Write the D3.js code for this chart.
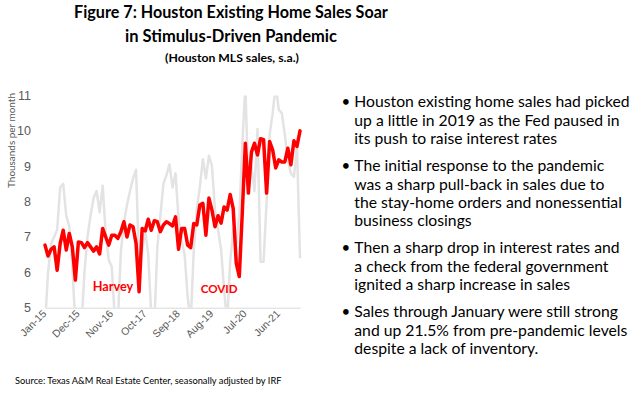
<!DOCTYPE html>
<html>
<head>
<meta charset="utf-8">
<script src="https://cdn.jsdelivr.net/npm/d3@7"></script>
<style>
  body { margin: 0; background: #fff; }
  svg { display: block; font-family: Lato, "Open Sans", sans-serif; }
</style>
</head>
<body>
<svg id="chart" width="641" height="394"></svg>
<script>
// monthly, Jan-15 .. Jan-22
const months = d3.timeMonth.range(new Date(2015, 0, 1), new Date(2022, 1, 1)).map(d3.timeFormat("%b-%y"));
const tickLabels = ["Jan-15", "Dec-15", "Nov-16", "Oct-17", "Sep-18", "Aug-19", "Jul-20", "Jun-21"];
const yTicks = [5, 6, 7, 8, 9, 10, 11];

// seasonally adjusted sales (thousands)
const salesSA = [
  6.77, 6.46, 6.65, 6.72, 6.06, 6.82, 7.19, 6.63, 7.10, 6.72, 5.78, 6.86,
  6.84, 6.70, 6.84, 6.72, 6.60, 6.72, 6.52, 7.24, 7.00, 6.77, 7.05, 7.05,
  6.96, 7.15, 7.43, 7.00, 7.34, 7.29, 6.82, 5.45, 7.24, 7.17, 7.50, 7.19,
  7.46, 7.43, 7.15, 7.34, 7.43, 7.38, 7.31, 7.57, 6.65, 7.24, 7.24, 6.77,
  6.70, 7.38, 7.34, 7.90, 7.95, 7.05, 8.10, 7.76, 7.29, 7.60, 7.39, 7.85,
  7.76, 8.20, 7.80, 6.26, 5.88, 7.70, 9.65, 8.24, 9.40, 9.65, 9.32, 9.78,
  9.75, 8.24, 9.70, 9.46, 8.95, 9.18, 9.12, 9.12, 9.51, 9.04, 9.72, 9.56,
  10.00
];
// unadjusted sales (thousands), drawn light grey behind
const salesRaw = [
  4.5, 6.0, 6.8, 7.0, 7.2, 8.4, 8.5, 7.6, 7.3, 6.2, 4.5, 4.8,
  4.5, 6.0, 7.0, 7.6, 8.1, 8.3, 7.7, 8.45, 7.1, 6.35, 6.15, 4.7,
  4.6, 6.6, 7.4, 7.9, 8.3, 8.65, 8.9, 6.2, 6.6, 7.2, 6.5, 4.8,
  4.5, 6.7, 7.6, 8.5, 8.75, 9.05, 8.4, 8.8, 7.5, 6.9, 6.5, 5.3,
  4.6, 6.6, 7.8, 8.4, 9.2, 8.65, 9.3, 9.0, 7.75, 7.2, 6.65, 5.5,
  4.6, 6.3, 7.2, 6.8, 7.6, 9.6, 11.3, 8.4, 9.0, 8.3, 10.05, 6.3,
  6.3, 8.0, 9.9, 10.5, 11.3, 10.6, 10.5, 9.9, 9.15, 8.8, 8.7, 9.6,
  6.4
];

const titleLines = ["Figure 7: Houston Existing Home Sales Soar", "in Stimulus-Driven Pandemic"];
const subtitle = "(Houston MLS sales, s.a.)";
const bullets = [
  ["Houston existing home sales had picked", "up a little in 2019 as the Fed paused in", "its push to raise interest rates"],
  ["The initial response to the pandemic", "was a sharp pull-back in sales due to", "the stay-home orders and nonessential", "business closings"],
  ["Then a sharp drop in interest rates and", "a check from the federal government", "ignited a sharp increase in sales"],
  ["Sales through January were still strong", "and up 21.5% from pre-pandemic levels", "despite a lack of inventory."]
];
const source = "Source: Texas A&M Real Estate Center, seasonally adjusted by IRF";

const svg = d3.select("#chart");

// shrink/grow font so the text takes the given width
function fitWidth(sel, width) {
  const fs = parseFloat(sel.style("font-size"));
  const w = sel.node().getComputedTextLength();
  sel.style("font-size", (fs * width / w) + "px");
}

// titles
const t1 = svg.append("text").attr("x", 231).attr("y", 17.5).attr("text-anchor", "middle")
  .style("font-weight", 700).style("font-size", "19px").text(titleLines[0]);
fitWidth(t1, 314);
const t2 = svg.append("text").attr("x", 231).attr("y", 41.5).attr("text-anchor", "middle")
  .style("font-weight", 700).style("font-size", "19px").text(titleLines[1]);
fitWidth(t2, 212);
const t3 = svg.append("text").attr("x", 232).attr("y", 62).attr("text-anchor", "middle")
  .style("font-weight", 700).style("font-size", "13px").text(subtitle);
fitWidth(t3, 134);

// scales
const x = d3.scalePoint().domain(months).range([45, 300]);
const y = d3.scaleLinear().domain([5, 11]).range([307.7, 95.5]);

svg.append("clipPath").attr("id", "plotClip")
  .append("rect").attr("x", 38).attr("y", y(11)).attr("width", 270).attr("height", y(5) - y(11));

// x axis
const xAxis = svg.append("g").attr("transform", `translate(0,${y(5)})`)
  .call(d3.axisBottom(x).tickValues(tickLabels).tickSize(0).tickFormat(d => d));
xAxis.select(".domain").attr("stroke", "#d9d9d9").attr("stroke-width", 1);
xAxis.selectAll("text")
  .attr("fill", "#595959").style("font-size", "10.5px")
  .attr("text-anchor", "end").attr("dy", "0.35em").attr("y", 0)
  .attr("transform", "translate(-1,4) rotate(-45)");

// y axis
const yAxis = svg.append("g").attr("transform", "translate(31,0)")
  .call(d3.axisLeft(y).tickValues(yTicks).tickSize(0).tickPadding(0).tickFormat(d3.format("d")));
yAxis.select(".domain").remove();
yAxis.selectAll("text").attr("fill", "#595959").style("font-size", "12.5px");

const yt = svg.append("text")
  .attr("transform", "translate(15,140.5) rotate(-90)")
  .attr("text-anchor", "middle").attr("fill", "#595959").style("font-size", "10px")
  .text("Thousands per month");
fitWidth(yt, 95);

// lines
const line = d3.line().x((d, i) => x(months[i])).y(d => y(d));
const plot = svg.append("g").attr("clip-path", "url(#plotClip)");
plot.append("path").datum(salesRaw).attr("d", line)
  .attr("fill", "none").attr("stroke", "#e3e3e3").attr("stroke-width", 2.5).attr("stroke-linejoin", "round");
plot.append("path").datum(salesSA).attr("d", line)
  .attr("fill", "none").attr("stroke", "#ff0000").attr("stroke-width", 3.5)
  .attr("stroke-linejoin", "round").attr("stroke-linecap", "round");

// annotations
const h = svg.append("text").attr("x", 92.7).attr("y", 290.5).attr("fill", "#ff0000")
  .style("font-weight", 700).style("font-size", "14px").text("Harvey");
fitWidth(h, 40.6);
const c = svg.append("text").attr("x", 200.7).attr("y", 292.5).attr("fill", "#ff0000")
  .style("font-weight", 700).style("font-size", "14px").text("COVID");
fitWidth(c, 37);

// bullet text
const bl = svg.append("g");
let row = 0;
bullets.forEach((lines, b) => {
  lines.forEach((s, k) => {
    const yy = 107.3 + row * 18.25 + b * 9.2;
    if (k === 0) {
      bl.append("text").attr("x", 341.5).attr("y", yy).style("font-size", "15px").text("\u2022");
    }
    bl.append("text").attr("class", "bt").attr("x", 354.3).attr("y", yy).style("font-size", "15px").text(s);
    row++;
  });
});
const first = bl.select(".bt");
const fs0 = 15 * 275.7 / first.node().getComputedTextLength();
bl.selectAll(".bt").style("font-size", fs0 + "px");

// source
const src = svg.append("text").attr("x", 15).attr("y", 384).style("font-size", "11px").text(source);
fitWidth(src, 267);
</script>
</body>
</html>
